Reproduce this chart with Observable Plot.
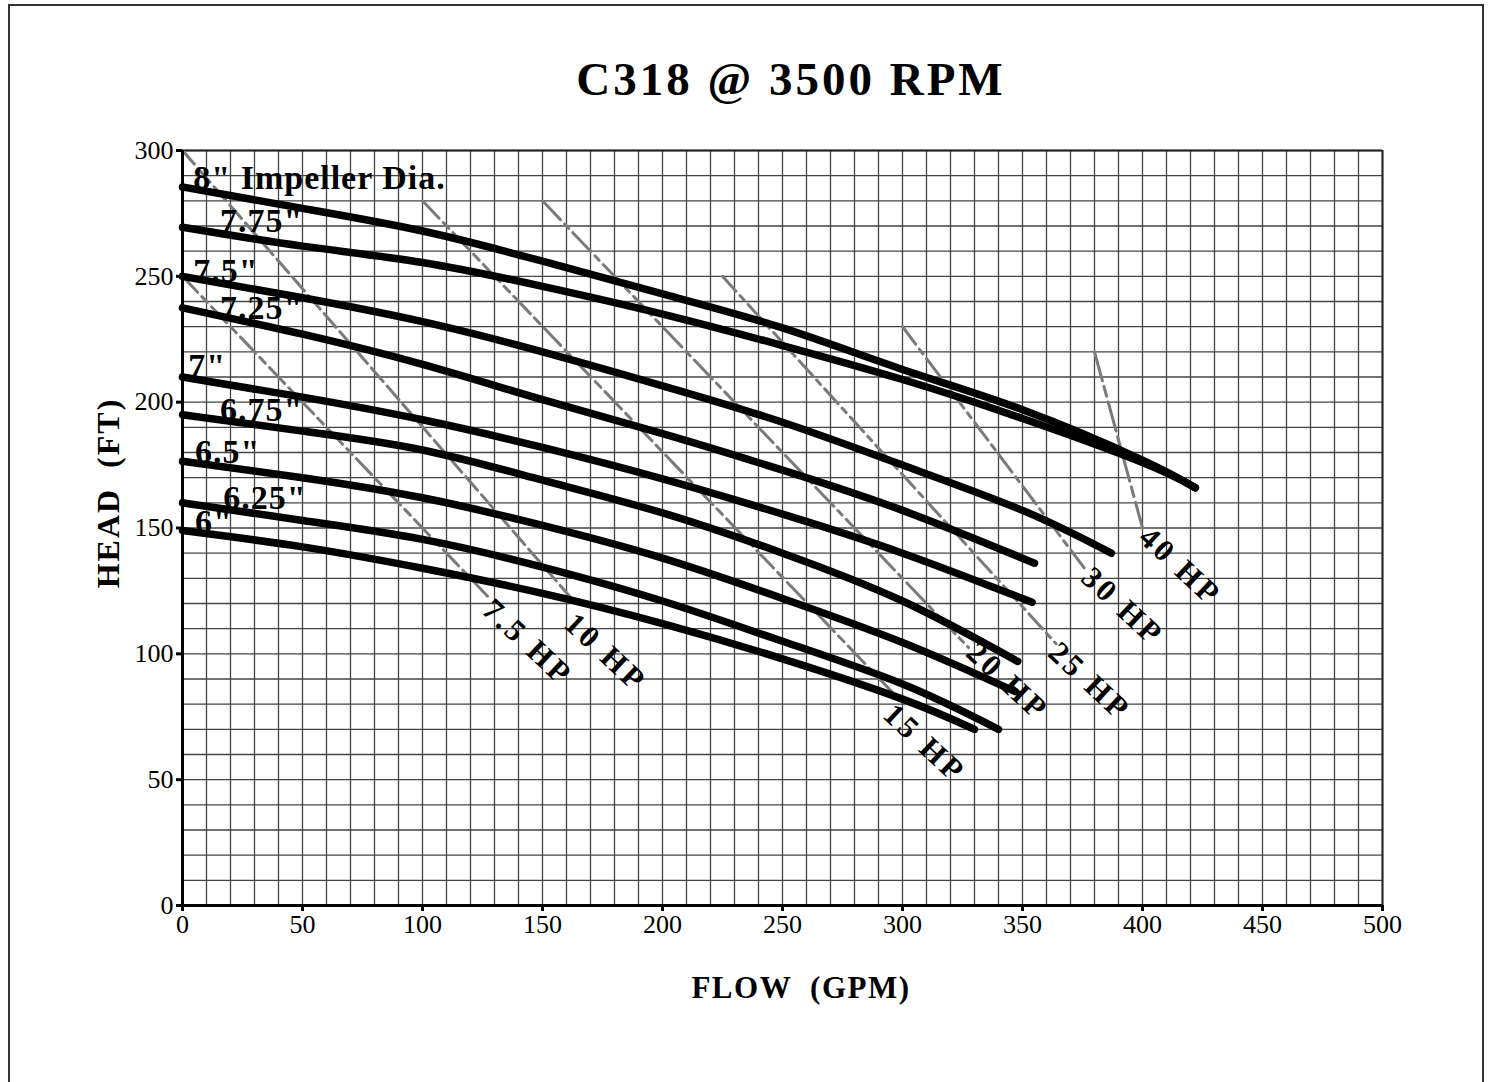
<!DOCTYPE html>
<html>
<head>
<meta charset="utf-8">
<script src="https://cdn.jsdelivr.net/npm/d3@7"></script>
<script src="https://cdn.jsdelivr.net/npm/@observablehq/plot@0.6"></script>
<style>
  body { margin: 0; background: #fff; }
  #page { position: relative; width: 1489px; height: 1082px; overflow: hidden; background: #fff;
          font-family: "Liberation Serif", "Times New Roman", serif; color: #000; }
  #frame { position: absolute; left: 8px; top: 4px; width: 1472px; height: 1100px; border: 2px solid #333; }
  #title { position: absolute; left: 491px; width: 600px; top: 56px; text-align: center;
           font-size: 47px; line-height: 46px; font-weight: bold; letter-spacing: 3px; white-space: pre; }
  #xlabel { position: absolute; left: 601px; width: 400px; top: 973px; text-align: center;
            font-size: 31px; line-height: 30px; font-weight: bold; letter-spacing: 1.5px; white-space: pre; }
  #ylabel { position: absolute; left: -42px; width: 300px; top: 478px; text-align: center;
            font-size: 32px; line-height: 30px; font-weight: bold; letter-spacing: 2px; white-space: pre;
            transform: rotate(-90deg); transform-origin: 150px 15px; }
  #chart { position: absolute; left: 0; top: 0; }
</style>
</head>
<body>
<div id="page">
  <div id="frame"></div>
  <div id="chart"></div>
  <div id="title">C318 @ 3500 RPM</div>
  <div id="xlabel">FLOW  (GPM)</div>
  <div id="ylabel">HEAD  (FT)</div>
</div>
<script>
// ---- Pump curves (flow GPM, head FT) per impeller diameter ----
const impellerLabels = ['8" Impeller Dia.', '7.75"', '7.5"', '7.25"', '7"', '6.75"', '6.5"', '6.25"', '6"'];

const flow8   = [0, 50, 100, 150, 200, 250, 300, 350, 400, 422];
const head8   = [285.5, 277, 268, 256, 243, 229.5, 213, 197, 177, 166];
const flow775 = [0, 50, 100, 150, 200, 250, 300, 350, 400, 422];
const head775 = [269.5, 262, 255.5, 246, 235, 222.5, 209, 193.5, 176, 166];
const flow75  = [0, 50, 100, 150, 200, 250, 300, 350, 387];
const head75  = [250, 241.5, 232, 220, 206.5, 192, 175, 157, 140];
const flow725 = [0, 50, 100, 150, 200, 250, 300, 355];
const head725 = [237.5, 227, 215, 201, 187.5, 173, 157, 136];
const flow7   = [0, 50, 100, 150, 200, 250, 300, 354];
const head7   = [210, 202, 193, 182, 169.5, 155.5, 140, 120.5];
const flow675 = [0, 50, 100, 150, 200, 250, 300, 348];
const head675 = [195, 188.5, 181, 169, 156, 140, 121, 97];
const flow65  = [0, 50, 100, 150, 200, 250, 300, 347];
const head65  = [176.5, 170, 162, 151, 138, 122, 104.5, 85];
const flow625 = [0, 50, 100, 150, 200, 250, 300, 340];
const head625 = [160, 153, 145.5, 134.5, 121, 105, 88, 70];
const flow6   = [0, 50, 100, 150, 200, 250, 300, 330];
const head6   = [149, 142.5, 134, 124, 112, 98, 82, 70];

// label anchor points (data units)
const labelFlow = [4.5, 15.6, 4.5, 15.6, 2.4, 15.6, 5.2, 17.0, 5.2];
const labelHead = [288.9, 271.8, 252, 237.4, 214.2, 196.7, 180.1, 161.9, 152.5];

// ---- Horsepower lines ----
const hpLabels     = ["7.5 HP", "10 HP", "15 HP", "20 HP", "25 HP", "30 HP", "40 HP"];
const hpFlowStart  = [0, 0, 100, 150, 225, 300, 380];
const hpHeadStart  = [250, 300, 280, 280, 250, 230, 220];
const hpFlowEnd    = [127.5, 163, 299, 327.5, 364, 377, 400];
const hpHeadEnd    = [122.5, 121, 81.5, 102.5, 104, 132.5, 150];
const hpLabelFlow  = [143.8, 176.3, 309.2, 343.8, 378, 391.7, 415.8];
const hpLabelHead  = [104.5, 100.5, 64.4, 89, 89, 118.8, 134.7];

// ---- Axis ticks ----
const xTicks = [0, 50, 100, 150, 200, 250, 300, 350, 400, 450, 500];
const yTicks = [0, 50, 100, 150, 200, 250, 300];

const flows = [flow8, flow775, flow75, flow725, flow7, flow675, flow65, flow625, flow6];
const heads = [head8, head775, head75, head725, head7, head675, head65, head625, head6];
const curveRows = [];
impellerLabels.forEach((d, i) => flows[i].forEach((q, j) => curveRows.push({dia: d, q, h: heads[i][j]})));
const labelRows = impellerLabels.map((d, i) => ({text: d, q: labelFlow[i], h: labelHead[i]}));
const hpRows = hpLabels.map((d, i) => ({hp: d, q1: hpFlowStart[i], h1: hpHeadStart[i], q2: hpFlowEnd[i], h2: hpHeadEnd[i], lq: hpLabelFlow[i], lh: hpLabelHead[i]}));

const hpDash = ["22,6,8,6", "18,6", "24,6,8,6", "26,6,6,6", "20,6,6,6", "22,6,6,6", "30,6,10,6"];
const hpMarks = hpRows.map((r, i) => Plot.line([{q: r.q1, h: r.h1}, {q: r.q2, h: r.h2}],
  {x: "q", y: "h", stroke: "#7a7a7a", strokeWidth: 3, strokeDasharray: hpDash[i]}));

const gridX = d3.range(0, 501, 10);
const gridY = d3.range(0, 301, 10);

const chart = Plot.plot({
  width: 1489, height: 1082,
  marginLeft: 182, marginRight: 107, marginTop: 150, marginBottom: 177,
  x: {domain: [0, 500]},
  y: {domain: [0, 300]},
  style: {fontFamily: '"Liberation Serif", "Times New Roman", serif', fontSize: "26px", color: "#000", background: "transparent", overflow: "visible"},
  marks: [
    Plot.ruleX(gridX, {stroke: "#444", strokeWidth: 1.3}),
    Plot.ruleY(gridY, {stroke: "#444", strokeWidth: 1.3}),
    Plot.ruleX([500], {stroke: "#222", strokeWidth: 2}),
    Plot.ruleY([300], {stroke: "#222", strokeWidth: 2}),
    ...hpMarks,
    Plot.line(curveRows, {x: "q", y: "h", z: "dia", stroke: "#000", strokeWidth: 7.5, strokeLinecap: "round", curve: "natural"}),
    Plot.ruleX([0], {stroke: "#000", strokeWidth: 3}),
    Plot.ruleY([0], {stroke: "#000", strokeWidth: 3}),
    Plot.axisX(xTicks, {tickSize: 6, strokeWidth: 3, tickPadding: 3, label: null, fontSize: 26, tickFormat: d => String(d)}),
    Plot.axisY(yTicks, {tickSize: 6, strokeWidth: 3, tickPadding: 3, label: null, fontSize: 26, tickFormat: d => String(d)}),
    Plot.text(labelRows, {x: "q", y: "h", text: "text", textAnchor: "start", fontWeight: "bold", fontSize: 34, fill: "#000"}),
    Plot.text(hpRows, {x: "lq", y: "lh", text: "hp", rotate: 43, textAnchor: "middle", fontWeight: "bold", fontSize: 31, fill: "#000"})
  ]
});
// letter spacing like the original's spaced-out bold serif labels
const impSet = new Set(impellerLabels), hpSet = new Set(hpLabels);
d3.select(chart).selectAll("text").each(function () {
  const t = this.textContent;
  if (impSet.has(t)) this.style.letterSpacing = "1px";
  else if (hpSet.has(t)) this.style.letterSpacing = "3.5px";
});
document.getElementById("chart").appendChild(chart);
</script>
</body>
</html>
